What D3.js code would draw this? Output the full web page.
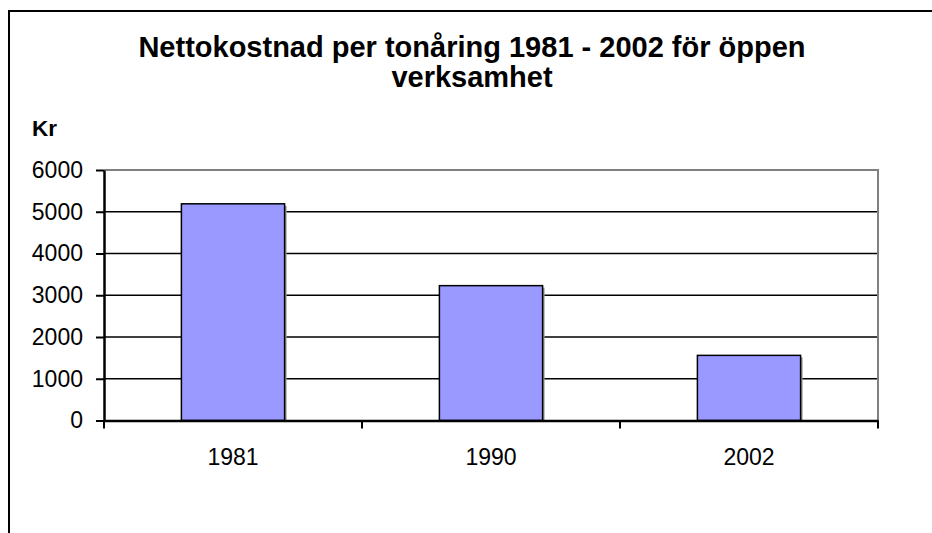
<!DOCTYPE html>
<html>
<head>
<meta charset="utf-8">
<script src="https://cdn.jsdelivr.net/npm/d3@7"></script>
<style>
  body { margin: 0; background: #fff; }
  #chart { width: 932px; height: 533px; }
  text { font-family: "Liberation Sans", Arial, sans-serif; }
</style>
</head>
<body>
<div id="chart"></div>
<script>
// Data
const years = ["1981", "1990", "2002"];
const costs = [5190, 3230, 1560];
const yTicks = [0, 1000, 2000, 3000, 4000, 5000, 6000];
const titleLines = ["Nettokostnad per tonåring 1981 - 2002 för öppen", "verksamhet"];
const yLabel = "Kr";

const data = years.map(function(y, i) { return {year: y, cost: costs[i]}; });

const width = 932;
const height = 533;
const margin = {top: 170, left: 104, right: 54, bottom: 112.5};

const svg = d3.select("#chart")
    .append("svg")
    .attr("width", width)
    .attr("height", height);

// outer chart border (runs off the right and bottom)
svg.append("rect")
    .attr("x", 9)
    .attr("y", 11)
    .attr("width", 960)
    .attr("height", 560)
    .attr("fill", "none")
    .attr("stroke", "#000")
    .attr("stroke-width", 2);

// Scales
const xScale = d3.scaleBand()
    .domain(years)
    .range([margin.left, width - margin.right])
    .paddingInner(0.6)
    .paddingOuter(0.3);

const bandScale = d3.scaleBand()
    .domain(years)
    .range([margin.left, width - margin.right]);

const yScale = d3.scaleLinear()
    .domain([0, 6000])
    .range([height - margin.bottom, margin.top]);

// Gridlines
svg.append("g")
    .selectAll("line")
    .data(yTicks.filter(function(d) { return d > 0 && d < 6000; }))
    .enter()
    .append("line")
        .attr("x1", margin.left)
        .attr("x2", width - margin.right)
        .attr("y1", function(d) { return yScale(d); })
        .attr("y2", function(d) { return yScale(d); })
        .attr("stroke", "#000")
        .attr("stroke-width", 1.5);

// plot border top and right (gray)
svg.append("path")
    .attr("d", `M${margin.left},${yScale(6000)}H${width - margin.right}V${yScale(0)}`)
    .attr("fill", "none")
    .attr("stroke", "#808080")
    .attr("stroke-width", 2);

// Bar shadows
svg.append("g")
    .selectAll("rect")
    .data(data)
    .enter()
    .append("rect")
        .attr("x", function(d) { return xScale(d.year) + 2; })
        .attr("y", function(d) { return yScale(d.cost) + 2; })
        .attr("width", xScale.bandwidth())
        .attr("height", function(d) { return yScale(0) - yScale(d.cost) - 2; })
        .attr("fill", "#999");

// Bars
svg.append("g")
    .selectAll("rect")
    .data(data)
    .enter()
    .append("rect")
        .attr("x", function(d) { return xScale(d.year); })
        .attr("y", function(d) { return yScale(d.cost); })
        .attr("width", xScale.bandwidth())
        .attr("height", function(d) { return yScale(0) - yScale(d.cost); })
        .attr("fill", "#9999ff")
        .attr("stroke", "#000")
        .attr("stroke-width", 1.5);

// Axes
const yAxis = svg.append("g")
    .attr("transform", `translate(${margin.left},0)`)
    .call(d3.axisLeft(yScale).tickValues(yTicks).tickFormat(d3.format("d"))
        .tickSize(8).tickPadding(13).tickSizeOuter(0));

const xAxis = svg.append("g")
    .attr("transform", `translate(0,${yScale(0)})`)
    .call(d3.axisBottom(bandScale).tickSize(0).tickPadding(28).tickSizeOuter(0));

// ticks between categories
xAxis.selectAll(".sep")
    .data(d3.range(years.length + 1))
    .enter()
    .append("line")
        .attr("class", "sep")
        .attr("x1", function(i) { return margin.left + i * bandScale.step(); })
        .attr("x2", function(i) { return margin.left + i * bandScale.step(); })
        .attr("y1", 0)
        .attr("y2", 8)
        .attr("stroke", "#000")
        .attr("stroke-width", 2);

[yAxis, xAxis].forEach(function(a) {
    a.select(".domain").attr("stroke", "#000").attr("stroke-width", 2.5);
    a.selectAll(".tick line").attr("stroke", "#000").attr("stroke-width", 2);
    a.selectAll(".tick text")
        .attr("fill", "#000")
        .style("font-size", "23px")
        .style("font-family", "'Liberation Sans', Arial, sans-serif");
});

// Title
svg.append("text")
    .attr("x", 472)
    .attr("y", 57)
    .attr("text-anchor", "middle")
    .style("font-size", "29px")
    .style("font-weight", "bold")
    .selectAll("tspan")
    .data(titleLines)
    .enter()
    .append("tspan")
        .attr("x", 472)
        .attr("dy", function(d, i) { return i === 0 ? 0 : 30; })
        .text(function(d) { return d; });

// Y axis label
svg.append("text")
    .attr("x", 32)
    .attr("y", 136)
    .style("font-size", "22.5px")
    .style("font-weight", "bold")
    .text(yLabel);
</script>
</body>
</html>
